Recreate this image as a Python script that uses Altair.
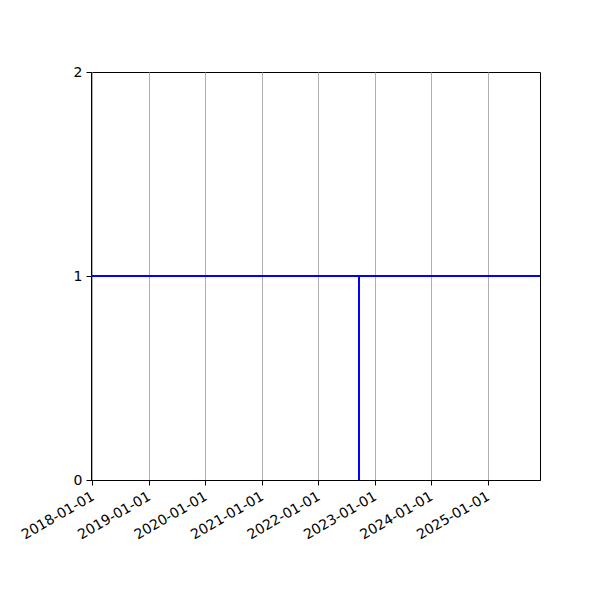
import altair as alt
import pandas as pd

# step-like series: constant 1 with a drop to 0 in Sept 2022
dates = ["2017-12-23", "2022-09-22", "2022-09-22", "2022-09-22", "2025-12-06"]
values = [1, 1, 0, 1, 1]
order = [0, 1, 2, 3, 4]
tick_years = [2018, 2019, 2020, 2021, 2022, 2023, 2024, 2025]

df = pd.DataFrame({"date": dates, "value": values, "order": order})

font = "DejaVu Sans"

x_enc = alt.X(
    "date:T",
    scale=alt.Scale(
        type="utc",
        domain=[alt.DateTime(year=2017, month=12, date=23, utc=True),
                alt.DateTime(year=2025, month=12, date=6, utc=True)],
        nice=False,
    ),
    axis=alt.Axis(
        title=None,
        values=[alt.DateTime(year=y, month=1, date=1, utc=True) for y in tick_years],
        format="%Y-%m-%d",
        labelAngle=-30,
        labelAlign="right",
        labelBaseline="top",
        labelFont=font,
        labelFontSize=14,
        labelColor="black",
        labelPadding=4,
        labelOffset=-3,
        grid=True,
        gridColor="#b0b0b0",
        gridWidth=1,
        domainColor="black",
        tickColor="black",
        tickSize=5,
        labelOverlap=False,
    ),
)

y_enc = alt.Y(
    "value:Q",
    scale=alt.Scale(domain=[0, 2], nice=False, zero=False),
    axis=alt.Axis(
        title=None,
        tickCount=3,
        format="d",
        grid=False,
        labelFont=font,
        labelFontSize=14,
        labelColor="black",
        labelPadding=4,
        labelOverlap=False,
        labelFlush=False,
        domainColor="black",
        tickColor="black",
        tickSize=5,
    ),
)

chart = (
    alt.Chart(df)
    .mark_line(color="#0000ff", strokeWidth=2, clip=True)
    .encode(x=x_enc, y=y_enc, order="order:Q")
    .properties(
        width=449,
        height=408,
        background="white",
        autosize=alt.AutoSizeParams(type="none"),
        padding={"left": 83, "top": 64, "right": 50, "bottom": 100},
    )
    .configure_view(stroke="#000000", strokeWidth=1)
)

chart.save("out.html", embed_options={"renderer": "svg", "actions": False})
